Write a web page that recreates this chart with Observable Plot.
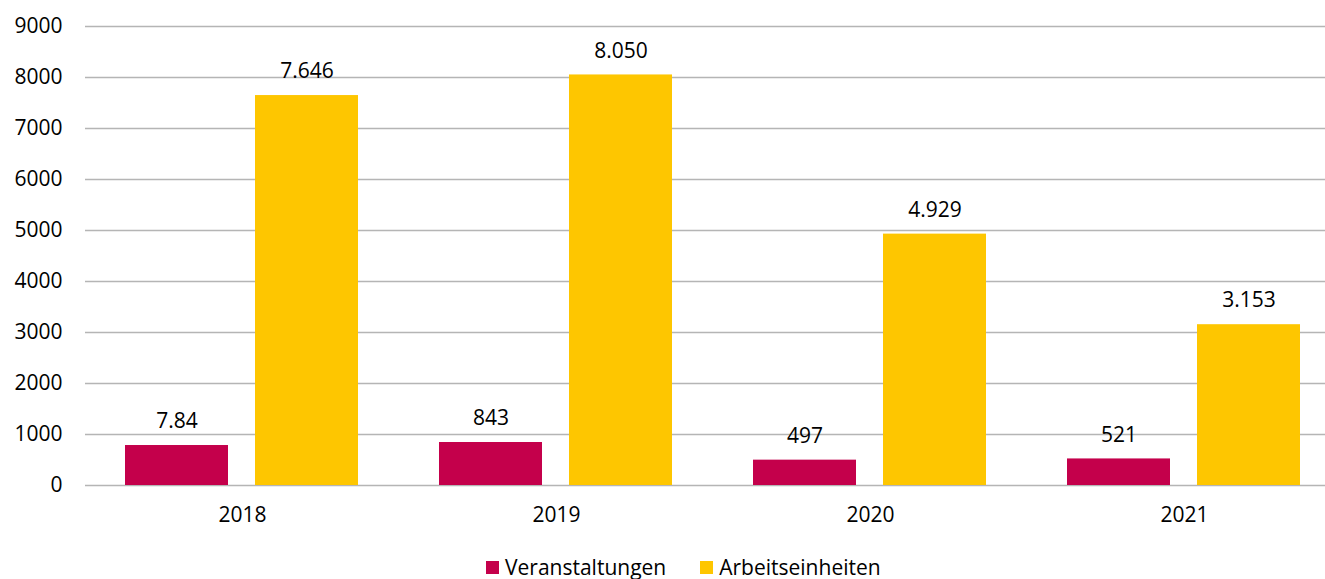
<!DOCTYPE html>
<html>
<head>
<meta charset="utf-8">
<script src="https://cdn.jsdelivr.net/npm/d3@7"></script>
<script src="https://cdn.jsdelivr.net/npm/@observablehq/plot@0.6"></script>
<style>
  html, body { margin: 0; padding: 0; background: #fff; overflow: hidden; }
  body { width: 1325px; height: 579px; font-family: "Open Sans", sans-serif; }
  #chart svg { max-width: none !important; }
  #legend { position: absolute; top: 553px; left: 486px; display: flex; align-items: center; font-size: 21px; color: #000; white-space: nowrap; }
  #legend .sw { width: 13px; height: 13px; display: inline-block; margin-right: 6px; }
  #legend .item { display: flex; align-items: center; margin-right: 34px; }
</style>
</head>
<body>
<div id="chart"></div>
<div id="legend"></div>
<script>
const years = ["2018", "2019", "2020", "2021"];
const seriesNames = ["Veranstaltungen", "Arbeitseinheiten"];
const veranstaltungen = [784, 843, 497, 521];
const arbeitseinheiten = [7646, 8050, 4929, 3153];
const veranstaltungenLabels = ["7.84", "843", "497", "521"];
const arbeitseinheitenLabels = ["7.646", "8.050", "4.929", "3.153"];
const colors = ["#C4004B", "#FEC600"];
const yTicks = [0, 1000, 2000, 3000, 4000, 5000, 6000, 7000, 8000, 9000];

const data = [];
years.forEach((yr, i) => {
  data.push({year: yr, series: seriesNames[0], value: veranstaltungen[i], label: veranstaltungenLabels[i]});
  data.push({year: yr, series: seriesNames[1], value: arbeitseinheiten[i], label: arbeitseinheitenLabels[i]});
});

const chart = Plot.plot({
  width: 1341,
  height: 540,
  marginLeft: 85,
  marginRight: 0,
  marginTop: 26,
  marginBottom: 55,
  style: {fontFamily: "'Open Sans', sans-serif", fontSize: "21px", color: "#000", background: "#fff", overflow: "visible", maxWidth: "none"},
  fx: {domain: years, paddingInner: 0, paddingOuter: 0, label: null, axis: "bottom", tickSize: 0, tickPadding: 22},
  x: {domain: seriesNames, paddingInner: 0.206, paddingOuter: 0.3015, axis: null},
  y: {domain: [0, 9000], ticks: yTicks, label: null, tickSize: 0, tickPadding: 23, tickFormat: d => String(d)},
  color: {domain: seriesNames, range: colors},
  marks: [
    Plot.ruleY(yTicks, {stroke: "#b5b5b5", strokeWidth: 1.3}),
    Plot.barY(data, {fx: "year", x: "series", y: "value", fill: "series"}),
    Plot.text(data, {fx: "year", x: "series", y: "value", text: "label", dy: -24, lineAnchor: "middle", fontSize: 21, fill: "#000"})
  ]
});
document.getElementById("chart").appendChild(chart);

const legend = document.getElementById("legend");
seriesNames.forEach((s, i) => {
  const item = document.createElement("div");
  item.className = "item";
  const sw = document.createElement("span");
  sw.className = "sw";
  sw.style.background = colors[i];
  item.appendChild(sw);
  item.appendChild(document.createTextNode(s));
  legend.appendChild(item);
});
</script>
</body>
</html>
